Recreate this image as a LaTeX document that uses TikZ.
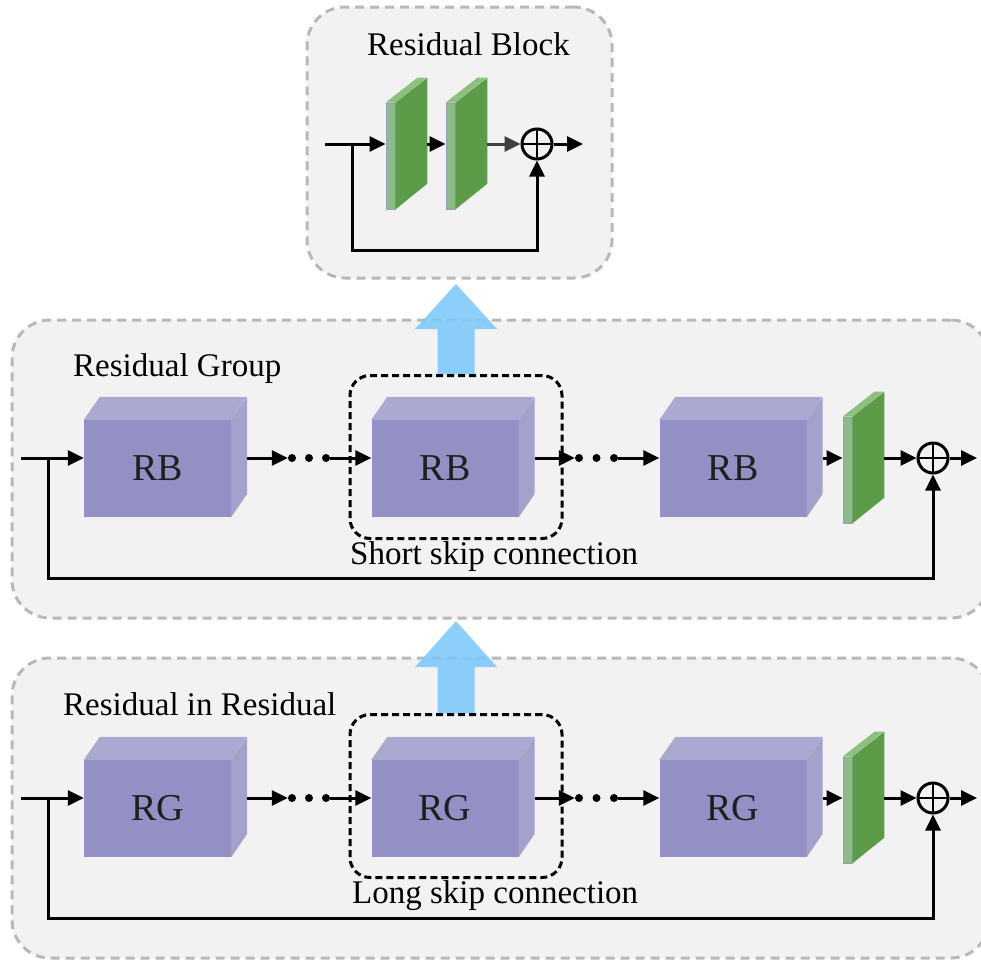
\documentclass[tikz,border=0pt]{standalone}
\usepackage{fontspec}
\setmainfont{Liberation Serif}
\usetikzlibrary{arrows.meta}

\definecolor{panelgray}{HTML}{F2F2F2}
\definecolor{paneldash}{HTML}{B8B8B8}
\definecolor{cubefrontc}{RGB}{146,144,196}
\definecolor{cubetopc}{RGB}{171,169,209}
\definecolor{cubesidec}{RGB}{164,162,205}
\definecolor{platefrontc}{RGB}{140,186,136}
\definecolor{plateedge}{RGB}{150,160,190}
\definecolor{platesidec}{RGB}{92,156,72}
\definecolor{platetopc}{RGB}{140,192,126}
\definecolor{skyflow}{RGB}{125,200,250}

% name, front centre x, arrow level y, text
\newcommand\cuboid[4]{%
  \node[cubefront] (#1) at (#2,#3+10.5) {#4};
  \fill[cubetopc] (#1.north west) -- ++(16,-23) -- ++(147,0) -- (#1.north east) -- cycle;
  \fill[cubesidec] (#1.north east) -- ++(16,-23) -- ++(0,97) -- (#1.south east) -- cycle;
  \coordinate (#1-in) at ([yshift=10.5pt]#1.west);
  \coordinate (#1-out) at ([xshift=16pt,yshift=10.5pt]#1.east);
}
% name, front left x, arrow level y
\newcommand\convplate[3]{%
  \node[platefront] (#1) at (#2+4.5,#3+12) {};
  \fill[platesidec] (#1.north east) -- ++(32,-25) -- ++(0,106) -- (#1.south east) -- cycle;
  \fill[platetopc] (#1.north west) -- ++(32,-25) -- ++(9,0) -- (#1.north east) -- cycle;
  \coordinate (#1-in) at ([yshift=12pt]#1.west);
  \coordinate (#1-out) at ([xshift=32pt,yshift=12pt]#1.east);
}

\begin{document}
\begin{tikzpicture}[x=1pt,y=-1pt,
    panel/.style={draw=paneldash,fill=panelgray,line width=3pt,dash pattern=on 9pt off 6pt,rounded corners=38pt,inner sep=0pt},
    cubefront/.style={fill=cubefrontc,inner sep=0pt,minimum width=147pt,minimum height=97pt,font=\fontsize{38}{44}\selectfont,text=black!88},
    platefront/.style={fill=platefrontc,draw=plateedge,line width=0.8pt,inner sep=0pt,minimum width=9pt,minimum height=106pt},
    arr/.style={line width=3pt,-{Triangle[length=16pt,width=15pt]}},
    oplus/.style={circle,draw,line width=3pt,fill=panelgray,minimum size=30pt,inner sep=0pt,
        path picture={\draw[line width=2.5pt] (path picture bounding box.north) -- (path picture bounding box.south)
            (path picture bounding box.west) -- (path picture bounding box.east);}},
    dot/.style={circle,fill,inner sep=0pt,minimum size=8pt},
    skipbox/.style={draw,line width=3pt,dash pattern=on 7pt off 4pt,rounded corners=20pt,minimum width=212pt,minimum height=163pt,inner sep=0pt},
    caption/.style={anchor=base west,font=\fontsize{33}{40}\selectfont,inner sep=0pt},
    upflow/.style={fill=skyflow,opacity=0.88}]

    \useasboundingbox (0,0) rectangle (981,961);
    \clip (0,0) rectangle (981,961);

    % panels
    \node[panel,minimum width=305pt,minimum height=271pt] (rbpanel) at (459.5,142.5) {};
    \node[panel,minimum width=977pt,minimum height=298pt] (rgpanel) at (500.5,469) {};
    \node[panel,minimum width=977pt,minimum height=300pt] (rirpanel) at (500.5,808) {};

    \node[caption] (t0) at (367,55) {Residual Block};
    \node[caption] (t1) at (73,376) {Residual Group};
    \node[caption] (t2) at (63,715) {Residual in Residual};

    % residual block
    \coordinate (in0) at (325,144);
    \coordinate (br0) at (352,144);
    \convplate{cv01}{386}{144}
    \convplate{cv02}{446}{144}
    \node[oplus] (s0) at (537,144) {};
    \coordinate (out0) at (583,144);
    \coordinate (lo0) at (537,250);
    \draw[arr] (in0) -- (cv01-in);
    \draw[arr] (cv01-out) -- (cv02-in);
    \draw[arr,draw=black!75] (cv02-out) -- (s0);
    \draw[arr] (s0) -- (out0);
    \draw[arr] (br0) |- (lo0) -- (s0);

    % blue arrows up
    \coordinate (up1) at (456,374);
    \coordinate (up2) at (456,713);
    \fill[upflow] (up1) ++(-18.5,0) -- ++(0,-45) -- ++(-22.5,0) -- ++(41,-45) -- ++(41,45) -- ++(-22.5,0) -- ++(0,45) -- cycle;
    \fill[upflow] (up2) ++(-18.5,0) -- ++(0,-46) -- ++(-22.5,0) -- ++(41,-46) -- ++(41,46) -- ++(-22.5,0) -- ++(0,46) -- cycle;

    % residual group
    \coordinate (in1) at (21,458);
    \coordinate (br1) at (48,458);
    \cuboid{rb1}{157.5}{458}{RB}
    \cuboid{rb2}{445}{458}{RB}
    \cuboid{rb3}{733}{458}{RB}
    \convplate{cv1}{843}{458}
    \node[skipbox,anchor=north] (k1) at (up1) {};
    \node[caption] (t3) at (350,564) {Short skip connection};
    \node[dot] (d1) at (292,458) {};
    \node[dot] (d2) at (309,458) {};
    \node[dot] (d3) at (326,458) {};
    \node[dot] (d4) at (579,458) {};
    \node[dot] (d5) at (596.5,458) {};
    \node[dot] (d6) at (614,458) {};
    \node[oplus] (s1) at (933,458) {};
    \coordinate (out1) at (977,458);
    \coordinate (lo1) at (933,578);
    \draw[arr] (in1) -- (rb1-in);
    \draw[arr] (rb1-out) -- (d1);
    \draw[arr] (d3) -- (rb2-in);
    \draw[arr] (rb2-out) -- (d4);
    \draw[arr] (d6) -- (rb3-in);
    \draw[arr] (rb3-out) -- (cv1-in);
    \draw[arr] (cv1-out) -- (s1);
    \draw[arr] (s1) -- (out1);
    \draw[arr] (br1) |- (lo1) -- (s1);

    % residual in residual
    \coordinate (in2) at (21,798);
    \coordinate (br2) at (48,798);
    \cuboid{rg1}{157.5}{798}{RG}
    \cuboid{rg2}{445}{798}{RG}
    \cuboid{rg3}{733}{798}{RG}
    \convplate{cv2}{843}{798}
    \node[skipbox,anchor=north] (k2) at (up2) {};
    \node[caption] (t4) at (352,903) {Long skip connection};
    \node[dot] (e1) at (292,798) {};
    \node[dot] (e2) at (309,798) {};
    \node[dot] (e3) at (326,798) {};
    \node[dot] (e4) at (579,798) {};
    \node[dot] (e5) at (596.5,798) {};
    \node[dot] (e6) at (614,798) {};
    \node[oplus] (s2) at (933,798) {};
    \coordinate (out2) at (977,798);
    \coordinate (lo2) at (933,918);
    \draw[arr] (in2) -- (rg1-in);
    \draw[arr] (rg1-out) -- (e1);
    \draw[arr] (e3) -- (rg2-in);
    \draw[arr] (rg2-out) -- (e4);
    \draw[arr] (e6) -- (rg3-in);
    \draw[arr] (rg3-out) -- (cv2-in);
    \draw[arr] (cv2-out) -- (s2);
    \draw[arr] (s2) -- (out2);
    \draw[arr] (br2) |- (lo2) -- (s2);
\end{tikzpicture}
\end{document}
